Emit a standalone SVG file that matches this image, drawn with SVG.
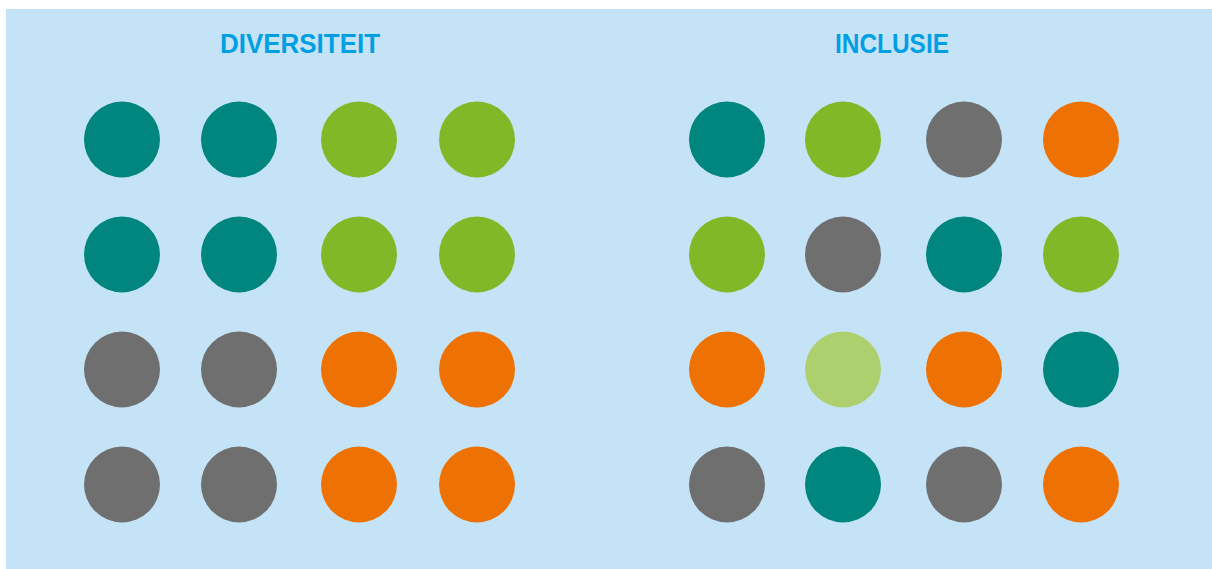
<svg xmlns="http://www.w3.org/2000/svg" width="1212" height="569" viewBox="0 0 1212 569">
  <style>
    .title { font-family: "Liberation Sans", Arial, sans-serif; font-weight: bold; font-size: 27px; fill: #009FE3; }
    .teal { fill: #00857F; }
    .green { fill: #7FB927; }
    .lightgreen { fill: #AECF6E; }
    .grey { fill: #6F6F6F; }
    .orange { fill: #EE7203; }
  </style>
  <rect x="0" y="0" width="1212" height="569" fill="#FFFFFF"/>
  <rect x="6" y="9" width="1206" height="560" fill="#C5E3F6"/>

  <!-- Left panel: grouped by colour -->
  <g id="diversiteit">
    <text class="title" x="300" y="53" text-anchor="middle" textLength="160" lengthAdjust="spacingAndGlyphs">DIVERSITEIT</text>
    <circle class="teal" cx="122" cy="139.5" r="38"/>
    <circle class="teal" cx="239" cy="139.5" r="38"/>
    <circle class="green" cx="359" cy="139.5" r="38"/>
    <circle class="green" cx="477" cy="139.5" r="38"/>
    <circle class="teal" cx="122" cy="254.5" r="38"/>
    <circle class="teal" cx="239" cy="254.5" r="38"/>
    <circle class="green" cx="359" cy="254.5" r="38"/>
    <circle class="green" cx="477" cy="254.5" r="38"/>
    <circle class="grey" cx="122" cy="369.5" r="38"/>
    <circle class="grey" cx="239" cy="369.5" r="38"/>
    <circle class="orange" cx="359" cy="369.5" r="38"/>
    <circle class="orange" cx="477" cy="369.5" r="38"/>
    <circle class="grey" cx="122" cy="484.5" r="38"/>
    <circle class="grey" cx="239" cy="484.5" r="38"/>
    <circle class="orange" cx="359" cy="484.5" r="38"/>
    <circle class="orange" cx="477" cy="484.5" r="38"/>
  </g>

  <!-- Right panel: mixed colours -->
  <g id="inclusie">
    <text class="title" x="892" y="53" text-anchor="middle" textLength="114" lengthAdjust="spacingAndGlyphs">INCLUSIE</text>
    <circle class="teal" cx="727" cy="139.5" r="38"/>
    <circle class="green" cx="843" cy="139.5" r="38"/>
    <circle class="grey" cx="964" cy="139.5" r="38"/>
    <circle class="orange" cx="1081" cy="139.5" r="38"/>
    <circle class="green" cx="727" cy="254.5" r="38"/>
    <circle class="grey" cx="843" cy="254.5" r="38"/>
    <circle class="teal" cx="964" cy="254.5" r="38"/>
    <circle class="green" cx="1081" cy="254.5" r="38"/>
    <circle class="orange" cx="727" cy="369.5" r="38"/>
    <circle class="lightgreen" cx="843" cy="369.5" r="38"/>
    <circle class="orange" cx="964" cy="369.5" r="38"/>
    <circle class="teal" cx="1081" cy="369.5" r="38"/>
    <circle class="grey" cx="727" cy="484.5" r="38"/>
    <circle class="teal" cx="843" cy="484.5" r="38"/>
    <circle class="grey" cx="964" cy="484.5" r="38"/>
    <circle class="orange" cx="1081" cy="484.5" r="38"/>
  </g>
</svg>
